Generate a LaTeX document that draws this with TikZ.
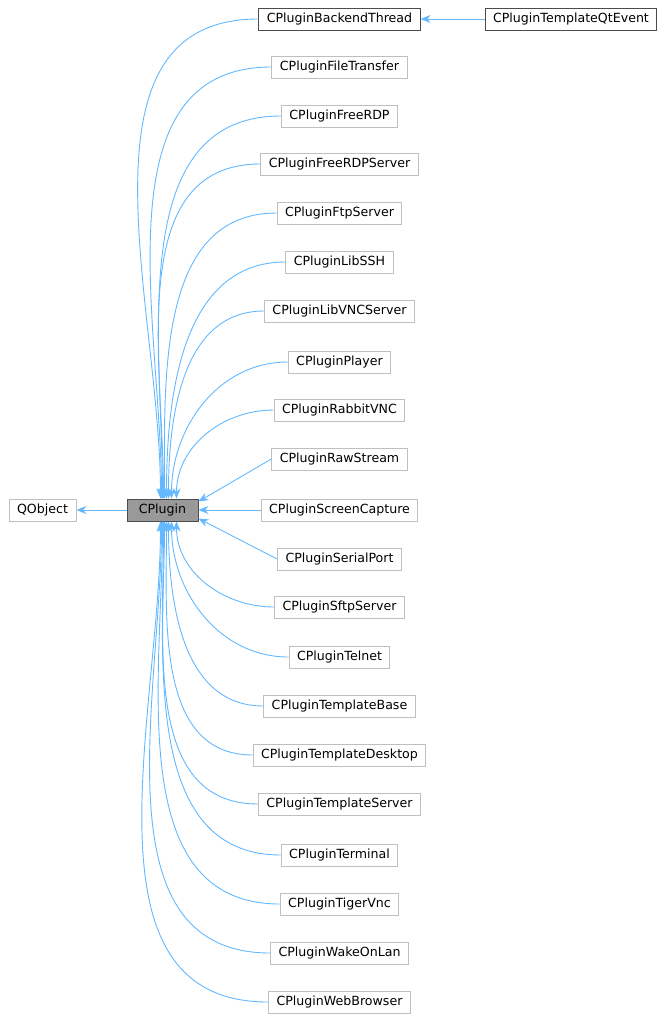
\documentclass[tikz,border=0pt]{standalone}
\usepackage{fontspec}
\setmainfont{DejaVu Sans}
\usetikzlibrary{arrows.meta,calc}
\definecolor{edge}{HTML}{63B8FF}
\definecolor{bord}{HTML}{BFBFBF}
\begin{document}
\begin{tikzpicture}[x=1pt,y=-1pt,
  box/.style={draw=bord,fill=white,minimum height=22pt,inner xsep=8pt,font=\fontsize{12.6}{13}\selectfont,line width=0.9pt},
  dark/.style={box,draw=black!70},
  e/.style={draw=edge,line width=0.9pt,-{Stealth[length=10pt,width=8pt]}}]
\useasboundingbox (0,0) rectangle (668,1023);
\node[box] (qo) at (42.5,510) {QObject};
\node[dark,fill=black!40,minimum width=71pt] (cp) at (162.5,510) {CPlugin};
\node[dark] (bt) at (339.5,19) {CPluginBackendThread};
\node[dark] (qt) at (571,19) {CPluginTemplateQtEvent};
\foreach \n/\t/\y in {a/FileTransfer/67,b/FreeRDP/116,c/FreeRDPServer/164,d/FtpServer/213,f/LibSSH/262,g/LibVNCServer/311,h/Player/362,i/RabbitVNC/410,j/RawStream/459,k/ScreenCapture/510,l/SerialPort/559,m/SftpServer/607,n/Telnet/657,o/TemplateBase/706,p/TemplateDesktop/755,q/TemplateServer/804,r/Terminal/855,s/TigerVnc/904,t/WakeOnLan/953,u/WebBrowser/1002}
  \node[box] (\n) at (339.5,\y) {CPlugin\t};
\draw[e] (cp.west) -- (qo.east);
\draw[e] (qt.west) -- (bt.east);
\draw[e] (k.west) -- (cp.east);
\draw[e] (j.west) -- ($(cp.north east)+(0,3)$);
\draw[e] (l.west) -- ($(cp.south east)+(0,-3)$);
\foreach \n/\dx in {bt/-2,a/-1,b/0,c/1,d/2,f/4,g/6,h/9,i/14}
  \draw[e] (\n.west) to[out=180,in=90] ($(cp.north)+(\dx,0)$);
\foreach \n/\dx in {u/-2,t/-1,s/0,r/1,q/2,p/4,o/6,n/9,m/14}
  \draw[e] (\n.west) to[out=180,in=-90] ($(cp.south)+(\dx,0)$);
\end{tikzpicture}
\end{document}
